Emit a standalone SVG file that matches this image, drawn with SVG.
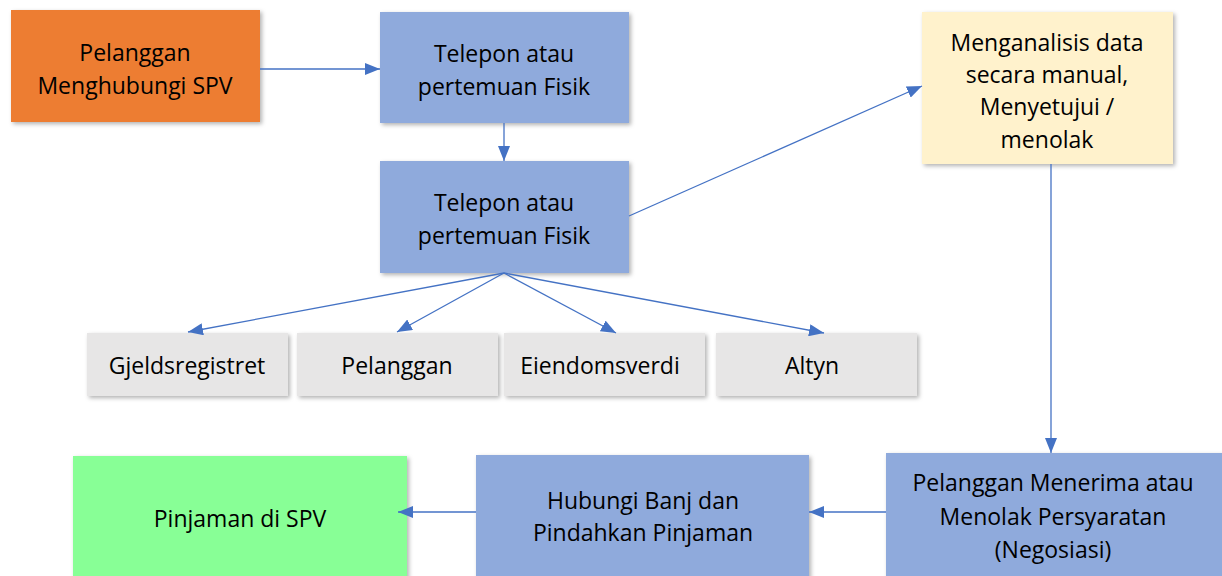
<svg xmlns="http://www.w3.org/2000/svg" width="1222" height="576" viewBox="0 0 1222 576">
  <style>
    .box { filter: url(#shadow); }
    .orange { fill: #ED7D31; }
    .blue { fill: #8FAADC; }
    .yellow { fill: #FFF2CC; }
    .gray { fill: #E7E6E6; }
    .green { fill: #88FF96; }
    .label { font-family: "Open Sans", "Liberation Sans", sans-serif; font-size: 23px; fill: #000; text-anchor: middle; dominant-baseline: central; }
    .conn { stroke: #4472C4; stroke-width: 1.3; fill: none; marker-end: url(#arrow); }
  </style>
  <defs>
    <filter id="shadow" x="-10%" y="-10%" width="125%" height="130%">
      <feDropShadow dx="2" dy="2" stdDeviation="2" flood-color="#000" flood-opacity="0.3"/>
    </filter>
    <marker id="arrow" markerUnits="userSpaceOnUse" markerWidth="16" markerHeight="12" refX="15" refY="6" orient="auto">
      <path d="M0,0 L15,6 L0,12 Z" fill="#4472C4"/>
    </marker>
  </defs>
  <rect width="1222" height="576" fill="#FFFFFF"/>

  <g id="node-pelanggan-spv">
    <rect class="box orange" x="11" y="10" width="249" height="112"/>
    <text class="label" x="135" y="52">Pelanggan</text>
    <text class="label" x="135" y="85">Menghubungi SPV</text>
  </g>

  <g id="node-telepon-1">
    <rect class="box blue" x="380" y="12" width="249" height="111"/>
    <text class="label" x="504" y="53">Telepon atau</text>
    <text class="label" x="504" y="86">pertemuan Fisik</text>
  </g>

  <g id="node-telepon-2">
    <rect class="box blue" x="380" y="161" width="249" height="112"/>
    <text class="label" x="504" y="202">Telepon atau</text>
    <text class="label" x="504" y="235">pertemuan Fisik</text>
  </g>

  <g id="node-analisis">
    <rect class="box yellow" x="922" y="12" width="251" height="152"/>
    <text class="label" x="1047" y="42">Menganalisis data</text>
    <text class="label" x="1047" y="74">secara manual,</text>
    <text class="label" x="1047" y="106">Menyetujui /</text>
    <text class="label" x="1047" y="139">menolak</text>
  </g>

  <g id="node-gjeldsregistret">
    <rect class="box gray" x="87" y="333" width="201" height="63"/>
    <text class="label" x="187" y="365">Gjeldsregistret</text>
  </g>

  <g id="node-pelanggan">
    <rect class="box gray" x="297" y="333" width="201" height="63"/>
    <text class="label" x="397" y="365">Pelanggan</text>
  </g>

  <g id="node-eiendomsverdi">
    <rect class="box gray" x="504" y="333" width="201" height="63"/>
    <text class="label" x="600" y="365">Eiendomsverdi</text>
  </g>

  <g id="node-altyn">
    <rect class="box gray" x="716" y="333" width="201" height="63"/>
    <text class="label" x="812" y="365">Altyn</text>
  </g>

  <g id="node-negosiasi">
    <rect class="box blue" x="886" y="453" width="340" height="130"/>
    <text class="label" x="1053" y="482">Pelanggan Menerima atau</text>
    <text class="label" x="1053" y="516">Menolak Persyaratan</text>
    <text class="label" x="1053" y="549">(Negosiasi)</text>
  </g>

  <g id="node-hubungi-bank">
    <rect class="box blue" x="476" y="455" width="333" height="125"/>
    <text class="label" x="643" y="500">Hubungi Banj dan</text>
    <text class="label" x="643" y="532">Pindahkan Pinjaman</text>
  </g>

  <g id="node-pinjaman-spv">
    <rect class="box green" x="73" y="456" width="334" height="124"/>
    <text class="label" x="240" y="518">Pinjaman di SPV</text>
  </g>

  <!-- connectors drawn last so arrowheads sit on top of the boxes -->
  <g id="connectors">
    <line class="conn" x1="260" y1="69" x2="380" y2="69"/>
    <line class="conn" x1="504" y1="123" x2="504" y2="161"/>
    <line class="conn" x1="629" y1="216" x2="922" y2="86"/>
    <line class="conn" x1="504" y1="273" x2="188" y2="332"/>
    <line class="conn" x1="504" y1="273" x2="397" y2="332"/>
    <line class="conn" x1="504" y1="273" x2="616" y2="333"/>
    <line class="conn" x1="504" y1="273" x2="824" y2="333"/>
    <line class="conn" x1="1051" y1="164" x2="1051" y2="453"/>
    <line class="conn" x1="886" y1="512" x2="809" y2="512"/>
    <line class="conn" x1="476" y1="512" x2="398" y2="512"/>
  </g>
</svg>
